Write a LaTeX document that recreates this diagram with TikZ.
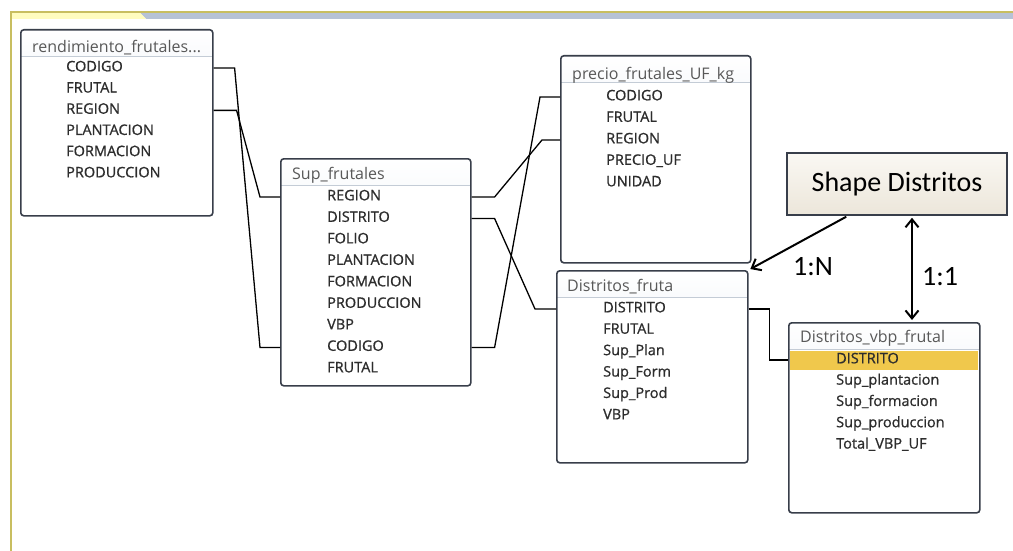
\documentclass[tikz,border=0pt]{standalone}
\usepackage{fontspec}
\setmainfont{Open Sans}
\newfontfamily\fldfont[FakeBold=0.9]{Open Sans}
\newfontfamily\calib{Carlito}
\usetikzlibrary{positioning,arrows.meta,calc}

\definecolor{tblborder}{RGB}{56,62,74}
\definecolor{titlebg}{RGB}{214,224,236}
\definecolor{titlegrey}{RGB}{88,88,88}
\definecolor{fieldgrey}{RGB}{45,45,45}
\definecolor{sepgrey}{RGB}{196,204,214}
\definecolor{keyhl}{RGB}{240,200,76}
\definecolor{beigetop}{RGB}{250,248,243}
\definecolor{beigebot}{RGB}{236,230,218}
\definecolor{frameyel}{RGB}{200,190,96}
\definecolor{framebar}{RGB}{182,194,214}

\begin{document}
\begin{tikzpicture}[x=1pt, y=-1pt, >={Straight Barb[length=8pt,width=13pt]},
  tbl/.style={draw=tblborder, line width=1.6pt, fill=white, rounded corners=3pt,
              anchor=north west, inner sep=0pt,
              path picture={
                \shade[top color=white, bottom color=titlebg]
                  (path picture bounding box.north west) rectangle
                  ([yshift=-27pt]path picture bounding box.north east);
                \draw[sepgrey, line width=0.8pt]
                  ([yshift=-27pt]path picture bounding box.north west) --
                  ([yshift=-27pt]path picture bounding box.north east);}},
  ttl/.style={anchor=west, inner sep=0pt, text=titlegrey,
              font=\fontsize{16}{18}\selectfont},
  fld/.style={anchor=west, inner sep=0pt, text=fieldgrey, text height=1.5ex,
              text depth=.25ex, font=\fldfont\fontsize{14.5}{16}\selectfont},
  rel/.style={line width=1.3pt, black},
  card/.style={line width=2pt, black, shorten <=2pt, shorten >=2pt},
  lbl/.style={font=\calib\fontsize{28}{30}\selectfont},
]
\useasboundingbox (0,0) rectangle (1013,551);

% window frame
\fill[framebar] (140,13) -- (1013,13) -- (1013,19) -- (146,19) -- cycle;
\fill[yellow!25] (12,13) -- (140,13) -- (146,19) -- (12,19) -- cycle;
\draw[frameyel, line width=1.6pt] (11,551) -- (11,12) -- (1013,12);

% tables
\node[tbl, minimum width=192pt, minimum height=186pt] (rf) at (20,29) {};
\node[ttl] (rf-t) at (32,48) {rendimiento\_frutales...};
\foreach \f [count=\i] in {CODIGO,FRUTAL,REGION,PLANTACION,FORMACION,PRODUCCION}
  \node[fld] (rf-\i) at (66,{68+21.2*(\i-1)}) {\f};

\node[tbl, minimum width=190pt, minimum height=227pt] (sf) at (280,158) {};
\node[ttl] (sf-t) at (292,175) {Sup\_frutales};
\foreach \f [count=\i] in {REGION,DISTRITO,FOLIO,PLANTACION,FORMACION,PRODUCCION,VBP,CODIGO,FRUTAL}
  \node[fld] (sf-\i) at (327,{197+21.5*(\i-1)}) {\f};

\node[tbl, minimum width=190pt, minimum height=207pt] (pf) at (560,55) {};
\node[ttl] (pf-t) at (572,75) {precio\_frutales\_UF\_kg};
\foreach \f [count=\i] in {CODIGO,FRUTAL,REGION,PRECIO\_UF,UNIDAD}
  \node[fld] (pf-\i) at (606,{97+21.5*(\i-1)}) {\f};

\node[tbl, minimum width=191pt, minimum height=192pt] (df) at (556,270) {};
\node[ttl] (df-t) at (567,287) {Distritos\_fruta};
\foreach \f [count=\i] in {DISTRITO,FRUTAL,Sup\_Plan,Sup\_Form,Sup\_Prod,VBP}
  \node[fld] (df-\i) at (603,{309+21.4*(\i-1)}) {\f};

\node[tbl, minimum width=191pt, minimum height=190pt] (dv) at (788,322) {};
\node[ttl] (dv-t) at (800,338) {Distritos\_vbp\_frutal};
\node[fill=keyhl, minimum width=188pt, minimum height=19pt, anchor=west,
      inner sep=0pt] (dvkey) at (789.5,360) {};
\foreach \f [count=\i] in {DISTRITO,Sup\_plantacion,Sup\_formacion,Sup\_produccion,Total\_VBP\_UF}
  \node[fld] (dv-\i) at (836,{360+21.3*(\i-1)}) {\f};

\node[draw=tblborder, line width=1.5pt, top color=beigetop, bottom color=beigebot,
      minimum width=220pt, minimum height=62pt, lbl] (sd) at (897,184) {Shape Distritos};

% relationships
\draw[rel] (rf-1 -| rf.east) -- ++(21,0) -- ([xshift=-20pt]sf-8 -| sf.west) -- (sf-8 -| sf.west);
\draw[rel] (rf-3 -| rf.east) -- ++(23,0) -- ([xshift=-20pt]sf-1 -| sf.west) -- (sf-1 -| sf.west);
\draw[rel] (sf-1 -| sf.east) -- ++(23,0) -- ([xshift=-18pt]pf-3 -| pf.west) -- (pf-3 -| pf.west);
\draw[rel] (sf-8 -| sf.east) -- ++(23,0) -- ([xshift=-20pt]pf-1 -| pf.west) -- (pf-1 -| pf.west);
\draw[rel] (sf-2 -| sf.east) -- ++(23,0) -- ([xshift=-21pt]df-1 -| df.west) -- (df-1 -| df.west);
\draw[rel] (df-1 -| df.east) -- ++(21,0) |- (dv-1 -| dv.west);

% cardinalities
\draw[card, ->] ([xshift=-49pt]sd.south) -- (df.north east);
\draw[card, <->] ([xshift=15pt]sd.south) -- ([xshift=15pt]sd.south |- dv.north);
\node[lbl] (n1) at (813,267) {1:N};
\node[lbl] (n2) at (940,277) {1:1};
\end{tikzpicture}
\end{document}
